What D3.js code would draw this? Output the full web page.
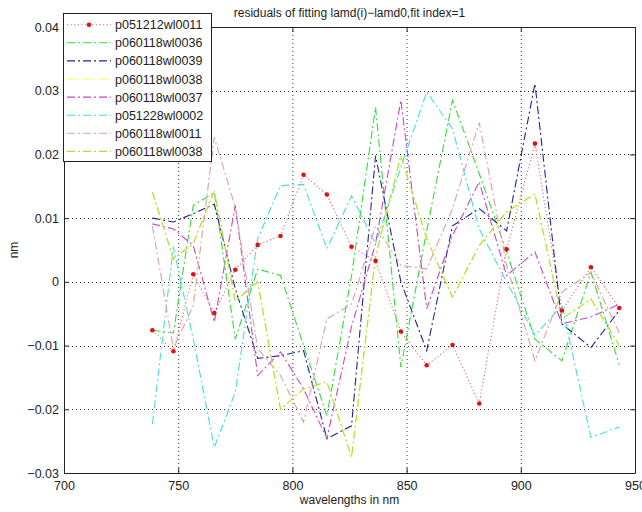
<!DOCTYPE html>
<html>
<head>
<meta charset="utf-8">
<script src="https://cdn.jsdelivr.net/npm/d3@7"></script>
<style>
body { margin: 0; background: #fff; }
svg { font-family: "Liberation Sans", Arial, sans-serif; }
</style>
</head>
<body>
<svg id="chart" width="642" height="512"></svg>
<script>
// wavelengths (nm) of the fitted lines
var wavelengths = [738.7, 747.9, 756.6, 765.8, 775.0, 784.8, 794.8, 804.9, 815.1, 825.9,
	836.4, 847.5, 858.8, 870.1, 881.8, 893.8, 906.2, 918.0, 930.7, 943.1]

var seriesNames = ["p051212wl0011", "p060118wl0036", "p060118wl0039", "p060118wl0038",
	"p060118wl0037", "p051228wl0002", "p060118wl0011", "p060118wl0038"]

// residuals, one array per run
var r_p051212wl0011 = [-0.0076, -0.0109, 0.0012, -0.0049, 0.0019, 0.0058, 0.0072, 0.0168, 0.0137, 0.0055,
	0.0033, -0.0078, -0.0131, -0.0099, -0.0191, 0.0051, 0.0217, -0.0045, 0.0023, -0.0041]
var r_p060118wl0036 = [-0.0076, -0.0080, 0.0120, 0.0140, -0.0090, 0.0020, 0.0010, -0.0100, -0.0210, 0.0010,
	0.0274, -0.0134, 0.0080, 0.0285, 0.0170, 0.0047, -0.0090, -0.0124, 0.0015, -0.0130]
var r_p060118wl0039 = [0.0100, 0.0094, 0.0107, 0.0122, -0.0011, -0.0120, -0.0116, -0.0108, -0.0246, -0.0226,
	0.0198, 0.0000, -0.0108, 0.0088, 0.0115, 0.0080, 0.0311, -0.0066, -0.0103, -0.0045]
var r_p060118wl0038 = [0.0141, 0.0036, 0.0060, 0.0143, -0.0030, 0.0000, -0.0200, -0.0168, -0.0157, -0.0275,
	0.0040, 0.0198, 0.0068, -0.0024, 0.0057, 0.0110, 0.0138, -0.0058, -0.0027, -0.0100]
var r_p060118wl0037 = [0.0091, 0.0083, 0.0057, -0.0063, 0.0120, -0.0147, -0.0110, -0.0168, -0.0246, -0.0070,
	0.0060, 0.0285, -0.0042, 0.0073, 0.0157, 0.0010, 0.0047, -0.0066, -0.0055, -0.0035]
var r_p051228wl0002 = [-0.0223, 0.0055, -0.0090, -0.0260, -0.0173, 0.0068, 0.0151, 0.0153, 0.0052, 0.0135,
	0.0060, 0.0180, 0.0298, 0.0240, 0.0083, 0.0000, -0.0084, -0.0037, -0.0244, -0.0228]
var r_p060118wl0011 = [0.0088, -0.0105, -0.0037, 0.0227, 0.0117, -0.0105, -0.0147, -0.0220, -0.0058, -0.0035,
	0.0088, 0.0026, 0.0020, 0.0115, 0.0250, 0.0026, -0.0124, -0.0016, 0.0015, -0.0080]

var seriesValues = [r_p051212wl0011, r_p060118wl0036, r_p060118wl0039, r_p060118wl0038,
	r_p060118wl0037, r_p051228wl0002, r_p060118wl0011, r_p060118wl0038]

var xTicks = [700, 750, 800, 850, 900, 950]
var yTicks = [-0.03, -0.02, -0.01, 0, 0.01, 0.02, 0.03, 0.04]

var colors = ["#ee6666", "#33dd33", "#22229a", "#ffff33", "#cc44cc", "#44e0e0", "#e0a0a0", "#a8dd44"]
var DASHDOT = "8,3,2,3"

const X0 = 64, X1 = 635, Y0 = 27, Y1 = 473
var chart = d3.select("#chart")

var x = d3.scaleLinear().domain([700, 950]).range([X0, X1])
var y = d3.scaleLinear().domain([-0.03, 0.04]).range([Y1, Y0])

// grid (dotted)
var grid = chart.append("g")
grid.selectAll(".gx").data(xTicks.slice(1, -1)).enter().append("line")
	.attr("x1", d => x(d) + 0.5).attr("x2", d => x(d) + 0.5)
	.attr("y1", Y0).attr("y2", Y1)
	.attr("stroke", "#333").attr("stroke-dasharray", "1,3")
grid.selectAll(".gy").data(yTicks.slice(1, -1)).enter().append("line")
	.attr("x1", X0).attr("x2", X1)
	.attr("y1", d => Math.round(y(d)) + 0.5).attr("y2", d => Math.round(y(d)) + 0.5)
	.attr("stroke", "#333").attr("stroke-dasharray", "1,3")

// series lines
var line = d3.line().x((d, i) => x(wavelengths[i])).y(d => y(d))
seriesValues.forEach(function(vals, k) {
	chart.append("path")
		.attr("d", line(vals))
		.attr("fill", "none")
		.attr("stroke", colors[k])
		.attr("stroke-width", 1.1)
		.attr("stroke-dasharray", k == 0 ? "1.2,2.4" : DASHDOT)
})
chart.append("g").selectAll("circle").data(r_p051212wl0011).enter().append("circle")
	.attr("cx", (d, i) => x(wavelengths[i]))
	.attr("cy", d => y(d))
	.attr("r", 2.3)
	.attr("fill", "#e01010")

// axes box with inward ticks
var fmtY = d => d === 0 ? "0" : d.toFixed(2).replace("-", "\u2212")
chart.append("g").attr("transform", "translate(0," + Y1 + ")")
	.call(d3.axisBottom(x).tickValues(xTicks).tickSizeInner(-5).tickSizeOuter(0).tickPadding(8))
chart.append("g").attr("transform", "translate(0," + Y0 + ")")
	.call(d3.axisTop(x).tickValues(xTicks).tickSizeInner(-5).tickSizeOuter(0).tickFormat(""))
chart.append("g").attr("transform", "translate(" + X0 + ",0)")
	.call(d3.axisLeft(y).tickValues(yTicks).tickSizeInner(-5).tickSizeOuter(0).tickPadding(5).tickFormat(fmtY))
chart.append("g").attr("transform", "translate(" + X1 + ",0)")
	.call(d3.axisRight(y).tickValues(yTicks).tickSizeInner(-5).tickSizeOuter(0).tickFormat(""))
chart.selectAll(".domain").attr("stroke", "#222")
chart.selectAll(".tick line").attr("stroke", "#222")
chart.selectAll(".tick text").attr("font-size", "12.5px").attr("fill", "#222")
	.attr("font-family", "'Liberation Sans', Arial, sans-serif")

// labels
chart.append("text").attr("x", (X0 + X1) / 2).attr("y", 17)
	.attr("text-anchor", "middle").attr("font-size", "12px").attr("fill", "#222")
	.text("residuals of fitting lamd(i)\u2212lamd0,fit index=1")
chart.append("text").attr("x", (X0 + X1) / 2).attr("y", 504)
	.attr("text-anchor", "middle").attr("font-size", "12px").attr("fill", "#222")
	.text("wavelengths in nm")
chart.append("text").attr("transform", "translate(18," + (Y0 + Y1) / 2 + ") rotate(-90)")
	.attr("text-anchor", "middle").attr("font-size", "12px").attr("fill", "#222")
	.text("nm")

// legend
var lg = chart.append("g")
lg.append("rect").attr("x", 63.5).attr("y", 13.5).attr("width", 148).attr("height", 148)
	.attr("fill", "#fff").attr("stroke", "#222")
var items = lg.selectAll(".item").data(seriesNames).enter().append("g")
	.attr("transform", (d, i) => "translate(0," + (24.7 + i * 18.1) + ")")
items.append("line").attr("x1", 67).attr("x2", 111).attr("y1", 0).attr("y2", 0)
	.attr("stroke", (d, i) => colors[i]).attr("stroke-width", 1.1)
	.attr("stroke-dasharray", (d, i) => i == 0 ? "1.2,2.4" : DASHDOT)
lg.append("circle").attr("cx", 89).attr("cy", 24.7).attr("r", 2.3).attr("fill", "#e01010")
items.append("text").attr("x", 115).attr("y", 4.5)
	.attr("font-size", "12.5px").attr("fill", "#222")
	.text(d => d)
</script>
</body>
</html>
